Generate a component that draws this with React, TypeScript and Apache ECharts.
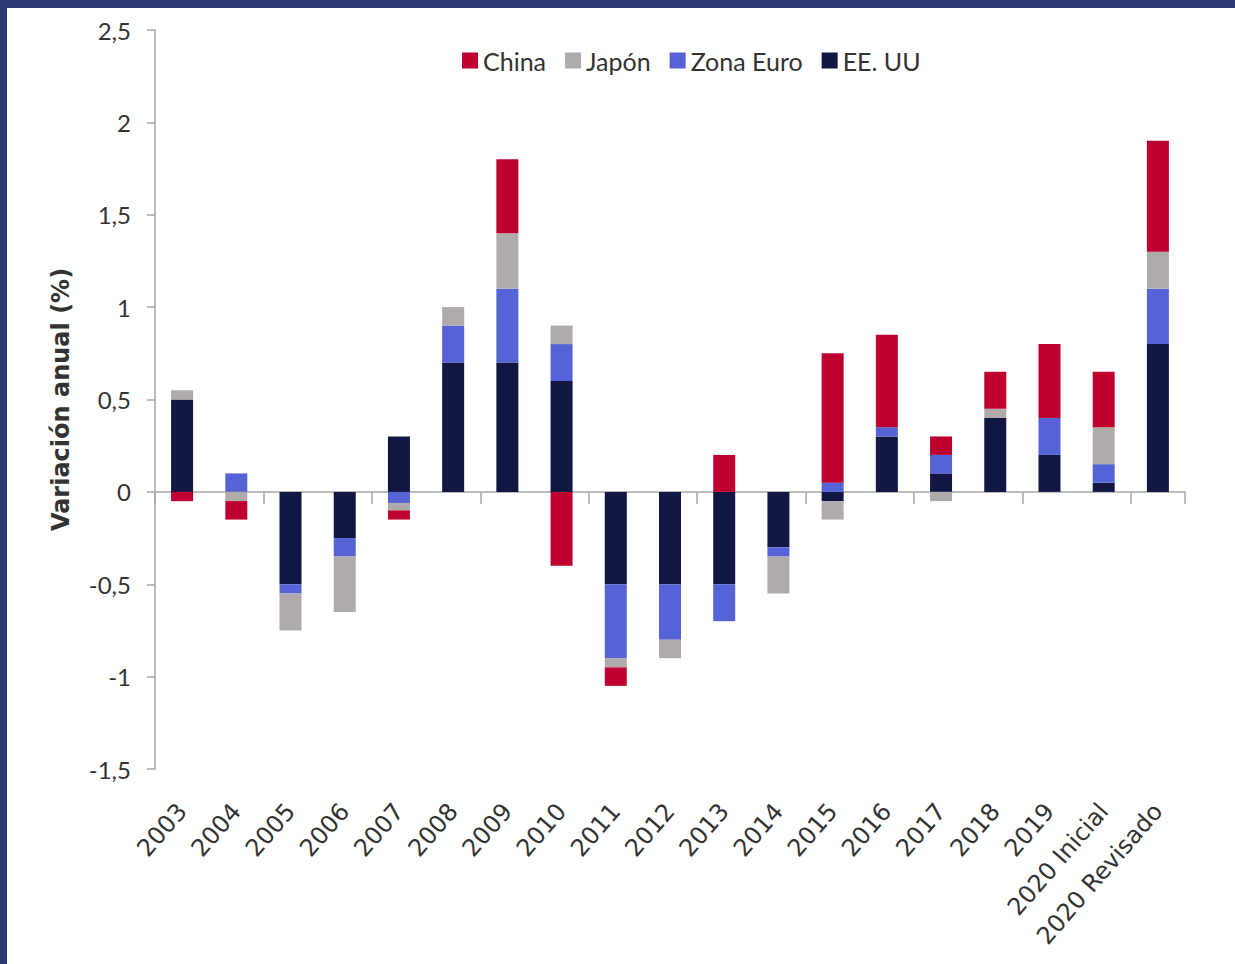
import React, { useEffect, useRef } from "react";
import * as echarts from "echarts";

const categories = [
  "2003", "2004", "2005", "2006", "2007", "2008", "2009", "2010", "2011", "2012",
  "2013", "2014", "2015", "2016", "2017", "2018", "2019", "2020 Inicial", "2020 Revisado",
];
const eeuu = [0.5, 0, -0.5, -0.25, 0.3, 0.7, 0.7, 0.6, -0.5, -0.5, -0.5, -0.3, -0.05, 0.3, 0.1, 0.4, 0.2, 0.05, 0.8];
const zonaEuro = [0, 0.1, -0.05, -0.1, -0.06, 0.2, 0.4, 0.2, -0.4, -0.3, -0.2, -0.05, 0.05, 0.05, 0.1, 0, 0.2, 0.1, 0.3];
const japon = [0.05, -0.05, -0.2, -0.3, -0.04, 0.1, 0.3, 0.1, -0.05, -0.1, 0, -0.2, -0.1, 0, -0.05, 0.05, 0, 0.2, 0.2];
const china = [-0.05, -0.1, 0, 0, -0.05, 0, 0.4, -0.4, -0.1, 0, 0.2, 0, 0.7, 0.5, 0.1, 0.2, 0.4, 0.3, 0.6];
const legendOrder = ["China", "Japón", "Zona Euro", "EE. UU"];
const yTitle = "Variación anual (%)";

const FONT = "Lato, 'Open Sans', sans-serif";
const AXIS_COLOR = "#A6A6A6";
const TEXT_COLOR = "#333333";

export default function App() {
  const ref = useRef<HTMLDivElement>(null);
  useEffect(() => {
    if (!ref.current) return;
    const chart = echarts.init(ref.current, undefined, { renderer: "svg" });
    const mk = (name: string, data: number[], color: string) => ({
      name,
      type: "bar",
      stack: "total",
      data,
      barWidth: 22,
      itemStyle: { color },
      xAxisIndex: 0,
      yAxisIndex: 0,
    });
    chart.setOption({
      animation: false,
      backgroundColor: "#ffffff",
      textStyle: { fontFamily: FONT },
      graphic: [
        { type: "rect", shape: { x: 0, y: 0, width: 1235, height: 8 }, style: { fill: "#2B3A73" }, z: 100 },
        { type: "rect", shape: { x: 0, y: 0, width: 7, height: 964 }, style: { fill: "#2B3A73" }, z: 100 },
      ],
      legend: {
        data: legendOrder,
        left: 457,
        top: 43,
        icon: "rect",
        itemWidth: 16,
        itemHeight: 16,
        itemGap: 19,
        textStyle: { fontSize: 25, color: TEXT_COLOR, fontFamily: FONT },
      },
      grid: { left: 155, top: 30, width: 1030, height: 739, containLabel: false },
      xAxis: [
        {
          type: "category",
          data: categories,
          boundaryGap: true,
          axisLine: { onZero: true, lineStyle: { color: AXIS_COLOR, width: 1.5 } },
          axisTick: { show: true, length: 12, alignWithLabel: false, lineStyle: { color: AXIS_COLOR, width: 1.5 } },
          axisLabel: { show: false },
          splitLine: { show: false },
        },
        {
          type: "category",
          data: categories,
          position: "bottom",
          boundaryGap: true,
          axisLine: { show: false, onZero: false },
          axisTick: { show: false },
          axisLabel: {
            show: true,
            rotate: 49,
            interval: 0,
            margin: 38,
            fontSize: 24,
            color: TEXT_COLOR,
            fontFamily: "'DejaVu Sans', sans-serif",
          },
          splitLine: { show: false },
        },
      ],
      yAxis: {
        type: "value",
        min: -1.5,
        max: 2.5,
        interval: 0.5,
        name: yTitle,
        nameLocation: "middle",
        nameGap: 82,
        nameTextStyle: { fontSize: 24, fontWeight: "bold", color: TEXT_COLOR, fontFamily: "'DejaVu Sans', sans-serif" },
        axisLine: { show: true, lineStyle: { color: AXIS_COLOR, width: 1.5 } },
        axisTick: { show: true, length: 8, lineStyle: { color: AXIS_COLOR, width: 1.5 } },
        axisLabel: {
          margin: 24,
          fontSize: 24,
          color: TEXT_COLOR,
          fontFamily: FONT,
          formatter: (v: number) => String(v).replace(".", ","),
        },
        splitLine: { show: false },
      },
      series: [
        mk("EE. UU", eeuu, "#111642"),
        mk("Zona Euro", zonaEuro, "#5563D6"),
        mk("Japón", japon, "#AFABAB"),
        mk("China", china, "#BE0030"),
      ],
    });
    return () => chart.dispose();
  }, []);
  return (
    <div
      ref={ref}
      style={{ position: "fixed", left: 0, top: 0, width: 1235, height: 964, background: "#fff" }}
    />
  );
}
